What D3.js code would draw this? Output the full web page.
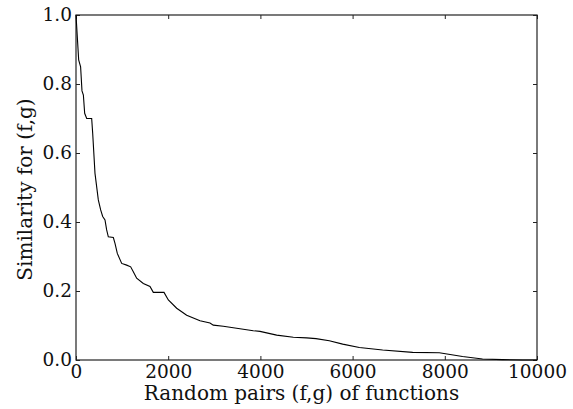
<!DOCTYPE html>
<html>
<head>
<meta charset="utf-8">
<script src="https://cdn.jsdelivr.net/npm/d3@7"></script>
<style>
  body { margin: 0; background: #fff; }
</style>
</head>
<body>
<div id="chart"></div>
<script>
// pair index (sorted by similarity)
const pairs = [0, 58, 100, 130, 160, 188, 232, 340, 362, 412, 484, 535, 579, 629, 665, 701, 810, 846, 896, 991,
  1099, 1186, 1243, 1316, 1460, 1605, 1677, 1909, 2003, 2184, 2401, 2690, 2907, 2978, 3195, 3846, 3991,
  4353, 4714, 5003, 5206, 5495, 5785, 6146, 6652, 7303, 7881, 8384, 8818, 9252, 9686, 10000];
// similarity value for each pair
const similarity = [1.0, 0.87, 0.85, 0.78, 0.768, 0.715, 0.70, 0.70, 0.657, 0.541, 0.464, 0.435, 0.416, 0.406,
  0.377, 0.357, 0.355, 0.338, 0.309, 0.280, 0.275, 0.270, 0.256, 0.237, 0.222, 0.213, 0.196, 0.196, 0.174,
  0.150, 0.130, 0.114, 0.107, 0.101, 0.098, 0.085, 0.083, 0.072, 0.066, 0.064, 0.062, 0.056, 0.046, 0.036,
  0.029, 0.022, 0.021, 0.010, 0.003, 0.001, 0.0, 0.0];
const xTicks = [0, 2000, 4000, 6000, 8000, 10000];
const yTicks = [0.0, 0.2, 0.4, 0.6, 0.8, 1.0];

const data = pairs.map((p, i) => ({ x: p, y: similarity[i] }));

const FONT = "'DejaVu Serif', 'Liberation Serif', serif";
const W = 573, H = 409;
const margin = {top: 15, right: 36, bottom: 49, left: 76},
    width = W - margin.left - margin.right,
    height = H - margin.top - margin.bottom;

const svg = d3.select("#chart")
  .append("svg")
    .attr("width", W)
    .attr("height", H)
  .append("g")
    .attr("transform", `translate(${margin.left}, ${margin.top})`);

const x = d3.scaleLinear().domain([0, 10000]).range([0, width]);
const y = d3.scaleLinear().domain([0, 1]).range([height, 0]);

// frame
svg.append("rect")
  .attr("width", width)
  .attr("height", height)
  .attr("fill", "none")
  .attr("stroke", "#222")
  .attr("stroke-width", 1.2);

// inward ticks on all four sides
const tickLen = 4;
svg.append("g")
  .attr("transform", `translate(0, ${height})`)
  .call(d3.axisBottom(x).tickValues(xTicks).tickSizeInner(-tickLen).tickSizeOuter(0)
    .tickFormat(d3.format("d")))
  .call(g => g.select(".domain").remove())
  .selectAll("text")
    .style("font-family", FONT).style("font-size", "18.5px")
    .attr("fill", "#111").attr("y", 18).attr("dy", 0);

svg.append("g")
  .call(d3.axisTop(x).tickValues(xTicks).tickSizeInner(-tickLen).tickSizeOuter(0).tickFormat(""))
  .call(g => g.select(".domain").remove());

svg.append("g")
  .call(d3.axisLeft(y).tickValues(yTicks).tickSizeInner(-tickLen).tickSizeOuter(0).tickPadding(4)
    .tickFormat(d3.format(".1f")))
  .call(g => g.select(".domain").remove())
  .selectAll("text")
    .style("font-family", FONT).style("font-size", "18.5px")
    .attr("fill", "#111");

svg.append("g")
  .attr("transform", `translate(${width}, 0)`)
  .call(d3.axisRight(y).tickValues(yTicks).tickSizeInner(-tickLen).tickSizeOuter(0).tickFormat(""))
  .call(g => g.select(".domain").remove());

svg.selectAll(".tick line").attr("stroke", "#222");

// curve
svg.append("path")
  .datum(data)
  .attr("fill", "none")
  .attr("stroke", "#000")
  .attr("stroke-width", 1.1)
  .attr("d", d3.line()
    .x(d => x(d.x))
    .y(d => y(d.y)));

// axis labels
svg.append("text")
  .attr("x", width / 2 - 5)
  .attr("y", height + 40)
  .attr("text-anchor", "middle")
  .style("font-family", FONT)
  .style("font-size", "20px")
  .attr("fill", "#111")
  .text("Random pairs (f,g) of functions");

svg.append("text")
  .attr("transform", `translate(${-44}, ${height / 2 + 2}) rotate(-90)`)
  .attr("text-anchor", "middle")
  .style("font-family", FONT)
  .style("font-size", "20px")
  .attr("fill", "#111")
  .text("Similarity for (f,g)");
</script>
</body>
</html>
